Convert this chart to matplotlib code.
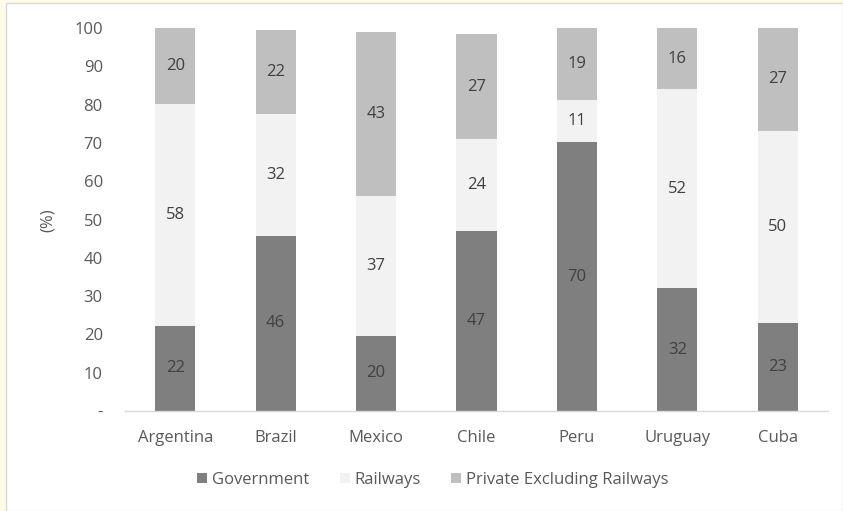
import matplotlib
matplotlib.use("Agg")
import matplotlib.pyplot as plt
from matplotlib.patches import Rectangle

categories = ["Argentina", "Brazil", "Mexico", "Chile", "Peru", "Uruguay", "Cuba"]
government = [22.3, 45.7, 19.6, 46.9, 70.2, 32.1, 23.0]
railways = [57.8, 31.8, 36.6, 24.1, 11.0, 51.9, 50.2]
private = [19.9, 22.0, 42.8, 27.4, 18.8, 16.0, 26.8]
series_names = ["Government", "Railways", "Private Excluding Railways"]
yticks = [0, 10, 20, 30, 40, 50, 60, 70, 80, 90, 100]
ytick_labels = ["-", "10", "20", "30", "40", "50", "60", "70", "80", "90", "100"]

plt.rcParams['font.family'] = ['Open Sans', 'DejaVu Sans']

W, H = 843, 511
fig = plt.figure(figsize=(W / 100, H / 100), dpi=100)
fig.patch.set_facecolor("#FEFBEB")
fig.patches.append(Rectangle((6 / W, 0), (W - 6) / W, (H - 3) / H, transform=fig.transFigure,
                             facecolor="white", edgecolor="#D9D9D9", linewidth=1.0, zorder=-5))

ax = fig.add_axes([125 / W, 1 - 411 / H, (828 - 125) / W, (411 - 28) / H])
ax.set_facecolor("none")
ax.set_zorder(2)

colors = ["#7F7F7F", "#F2F2F2", "#BFBFBF"]
x = list(range(len(categories)))
bottoms = [0] * len(categories)
for name, vals, c in zip(series_names, [government, railways, private], colors):
    ax.bar(x, vals, width=0.4, bottom=bottoms, color=c, label=name, zorder=2)
    for xi, b, v in zip(x, bottoms, vals):
        ax.text(xi, b + v / 2, f"{round(v):d}", ha="center", va="center",
                fontsize=12, color="#404040", zorder=3)
    bottoms = [b + v for b, v in zip(bottoms, vals)]

ax.set_xlim(-0.5, len(categories) - 0.5)
ax.set_ylim(0, 100)
ax.set_yticks(yticks)
ax.set_yticklabels(ytick_labels)
ax.set_xticks(x)
ax.set_xticklabels(categories)
ax.tick_params(axis="both", length=0, labelsize=12, colors="#595959")
ax.tick_params(axis="y", pad=16)
ax.tick_params(axis="x", pad=14)
for s in ["top", "right", "left"]:
    ax.spines[s].set_visible(False)
ax.spines["bottom"].set_color("#D9D9D9")
ax.spines["bottom"].set_linewidth(1.0)

fig.text(48 / W, 1 - 220 / H, "(%)", rotation=90, ha="center", va="center",
         fontsize=12, color="#595959")

leg = fig.legend(loc="center", bbox_to_anchor=(433 / W, 1 - 480 / H), ncol=3,
                 frameon=False, fontsize=12, handlelength=0.6, handleheight=0.6,
                 handletextpad=0.3, columnspacing=1.8)
for t in leg.get_texts():
    t.set_color("#595959")

fig.savefig("out.png", dpi=100, facecolor=fig.get_facecolor())
